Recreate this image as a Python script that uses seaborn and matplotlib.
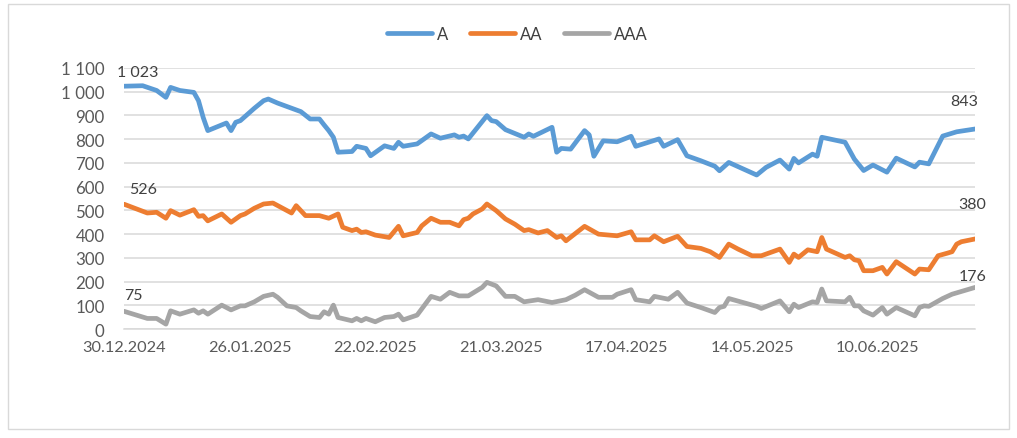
import matplotlib
matplotlib.use("Agg")
import matplotlib.pyplot as plt
import matplotlib.dates as mdates
from matplotlib.patches import Rectangle
from matplotlib.ticker import FuncFormatter, MultipleLocator
import pandas as pd
import seaborn as sns

# --- data ---
a_dates = [
    "2024-12-30", "2025-01-03", "2025-01-06", "2025-01-08", "2025-01-09", "2025-01-11",
    "2025-01-14", "2025-01-15", "2025-01-16", "2025-01-17", "2025-01-21", "2025-01-22",
    "2025-01-23", "2025-01-24", "2025-01-27", "2025-01-29", "2025-01-30", "2025-02-01",
    "2025-02-06", "2025-02-08", "2025-02-10", "2025-02-11", "2025-02-12", "2025-02-13",
    "2025-02-14", "2025-02-17", "2025-02-18", "2025-02-20", "2025-02-21", "2025-02-24",
    "2025-02-26", "2025-02-27", "2025-02-28", "2025-03-03", "2025-03-06", "2025-03-08",
    "2025-03-11", "2025-03-12", "2025-03-13", "2025-03-14", "2025-03-18", "2025-03-19",
    "2025-03-20", "2025-03-22", "2025-03-26", "2025-03-27", "2025-03-28", "2025-04-01",
    "2025-04-02", "2025-04-03", "2025-04-05", "2025-04-08", "2025-04-09", "2025-04-10",
    "2025-04-12", "2025-04-15", "2025-04-18", "2025-04-19", "2025-04-24", "2025-04-25",
    "2025-04-28", "2025-04-30", "2025-05-03", "2025-05-06", "2025-05-07", "2025-05-09",
    "2025-05-15", "2025-05-17", "2025-05-20", "2025-05-22", "2025-05-23", "2025-05-24",
    "2025-05-27", "2025-05-28", "2025-05-29", "2025-06-03", "2025-06-05", "2025-06-07",
    "2025-06-09", "2025-06-12", "2025-06-14", "2025-06-18", "2025-06-19", "2025-06-21",
    "2025-06-24", "2025-06-27", "2025-07-01",
]
a_values = [
    1023, 1025, 1005, 976, 1018, 1005,
    997, 962, 892, 836, 868, 836,
    871, 878, 930, 962, 969, 952,
    916, 885, 885, 860, 836, 808,
    745, 748, 770, 761, 730, 772,
    761, 787, 770, 780, 822, 804,
    818, 808, 813, 801, 899, 878,
    874, 840, 808, 822, 812, 850,
    745, 761, 758, 836, 818, 728,
    793, 789, 812, 770, 801, 770,
    798, 730, 709, 686, 667, 702,
    649, 681, 712, 674, 719, 700,
    737, 728, 808, 787, 716, 668,
    691, 661, 720, 683, 703, 696,
    813, 831, 843,
]

aa_dates = [
    "2024-12-30", "2025-01-04", "2025-01-06", "2025-01-08", "2025-01-09", "2025-01-11",
    "2025-01-14", "2025-01-15", "2025-01-16", "2025-01-17", "2025-01-20", "2025-01-22",
    "2025-01-24", "2025-01-25", "2025-01-27", "2025-01-29", "2025-01-31", "2025-02-04",
    "2025-02-05", "2025-02-07", "2025-02-10", "2025-02-12", "2025-02-14", "2025-02-15",
    "2025-02-17", "2025-02-18", "2025-02-19", "2025-02-20", "2025-02-22", "2025-02-25",
    "2025-02-27", "2025-02-28", "2025-03-03", "2025-03-04", "2025-03-06", "2025-03-08",
    "2025-03-10", "2025-03-12", "2025-03-13", "2025-03-14", "2025-03-15", "2025-03-17",
    "2025-03-18", "2025-03-20", "2025-03-22", "2025-03-24", "2025-03-26", "2025-03-27",
    "2025-03-29", "2025-03-31", "2025-04-02", "2025-04-03", "2025-04-04", "2025-04-08",
    "2025-04-11", "2025-04-15", "2025-04-18", "2025-04-19", "2025-04-22", "2025-04-23",
    "2025-04-25", "2025-04-28", "2025-04-30", "2025-05-03", "2025-05-05", "2025-05-07",
    "2025-05-09", "2025-05-11", "2025-05-14", "2025-05-16", "2025-05-20", "2025-05-22",
    "2025-05-23", "2025-05-24", "2025-05-26", "2025-05-28", "2025-05-29", "2025-05-30",
    "2025-06-03", "2025-06-04", "2025-06-05", "2025-06-06", "2025-06-07", "2025-06-09",
    "2025-06-11", "2025-06-12", "2025-06-14", "2025-06-18", "2025-06-19", "2025-06-21",
    "2025-06-23", "2025-06-25", "2025-06-26", "2025-06-27", "2025-06-28", "2025-07-01",
]
aa_values = [
    526, 489, 492, 467, 499, 480,
    503, 475, 478, 456, 485, 450,
    478, 485, 509, 527, 531, 489,
    520, 478, 478, 467, 485, 429,
    415, 421, 407, 410, 396, 386,
    433, 393, 407, 435, 467, 450,
    450, 435, 461, 467, 485, 506,
    527, 499, 464, 442, 415, 419,
    405, 415, 386, 393, 372, 433,
    400, 393, 410, 376, 376, 393,
    368, 391, 348, 340, 326, 302,
    358, 337, 309, 309, 337, 281,
    316, 302, 334, 326, 386, 337,
    302, 309, 292, 288, 246, 246,
    260, 232, 284, 232, 253, 250,
    309, 320, 326, 358, 368, 380,
]

aaa_dates = [
    "2024-12-30", "2025-01-04", "2025-01-06", "2025-01-08", "2025-01-09", "2025-01-11",
    "2025-01-14", "2025-01-15", "2025-01-16", "2025-01-17", "2025-01-20", "2025-01-22",
    "2025-01-24", "2025-01-25", "2025-01-27", "2025-01-29", "2025-01-31", "2025-02-01",
    "2025-02-03", "2025-02-05", "2025-02-06", "2025-02-08", "2025-02-10", "2025-02-11",
    "2025-02-12", "2025-02-13", "2025-02-14", "2025-02-17", "2025-02-18", "2025-02-19",
    "2025-02-20", "2025-02-22", "2025-02-24", "2025-02-26", "2025-02-27", "2025-02-28",
    "2025-03-03", "2025-03-06", "2025-03-08", "2025-03-10", "2025-03-12", "2025-03-14",
    "2025-03-17", "2025-03-18", "2025-03-20", "2025-03-22", "2025-03-24", "2025-03-26",
    "2025-03-29", "2025-04-01", "2025-04-04", "2025-04-06", "2025-04-08", "2025-04-11",
    "2025-04-14", "2025-04-15", "2025-04-18", "2025-04-19", "2025-04-22", "2025-04-23",
    "2025-04-26", "2025-04-28", "2025-04-30", "2025-05-03", "2025-05-06", "2025-05-07",
    "2025-05-08", "2025-05-09", "2025-05-15", "2025-05-16", "2025-05-20", "2025-05-22",
    "2025-05-23", "2025-05-24", "2025-05-27", "2025-05-28", "2025-05-29", "2025-05-30",
    "2025-06-03", "2025-06-04", "2025-06-05", "2025-06-06", "2025-06-07", "2025-06-09",
    "2025-06-11", "2025-06-12", "2025-06-14", "2025-06-18", "2025-06-19", "2025-06-20",
    "2025-06-21", "2025-06-24", "2025-06-26", "2025-07-01",
]
aaa_values = [
    75, 45, 45, 21, 77, 63,
    81, 67, 77, 63, 101, 81,
    98, 98, 115, 138, 147, 134,
    98, 91, 77, 53, 49, 73,
    63, 101, 49, 35, 45, 35,
    45, 31, 49, 53, 63, 39,
    59, 138, 126, 155, 140, 140,
    176, 197, 182, 138, 138, 115,
    124, 112, 124, 143, 166, 134,
    134, 147, 166, 124, 115, 138,
    126, 155, 110, 91, 70, 91,
    96, 129, 96, 87, 119, 73,
    105, 91, 115, 112, 169, 119,
    115, 134, 98, 98, 77, 59,
    91, 63, 91, 56, 91, 98,
    96, 129, 147, 176,
]

series_names = ["A", "AA", "AAA"]
series_colors = ["#5B9BD5", "#ED7D31", "#A5A5A5"]
tick_dates = ["2024-12-30", "2025-01-26", "2025-02-22", "2025-03-21",
              "2025-04-17", "2025-05-14", "2025-06-10"]

frames = []
for name, d, v in zip(series_names, [a_dates, aa_dates, aaa_dates],
                      [a_values, aa_values, aaa_values]):
    frames.append(pd.DataFrame({"date": pd.to_datetime(d), "value": v, "series": name}))
df = pd.concat(frames, ignore_index=True)

sns.set_theme(style="white")
plt.rcParams["font.family"] = ["Lato", "DejaVu Sans"]

fig = plt.figure(figsize=(10.17, 4.39), dpi=100)
ax = fig.add_axes([0.122, 0.248, 0.837, 0.595])

sns.lineplot(data=df, x="date", y="value", hue="series", hue_order=series_names,
             palette=series_colors, linewidth=3.4, ax=ax, legend=True, sort=False)

ax.set_ylim(0, 1100)
ax.set_xlim(pd.Timestamp("2024-12-30"), pd.Timestamp("2025-07-01"))
ax.yaxis.set_major_locator(MultipleLocator(100))
ax.yaxis.set_major_formatter(FuncFormatter(lambda v, p: f"{v:,.0f}".replace(",", " ")))
ax.set_xticks(pd.to_datetime(tick_dates))
ax.xaxis.set_major_formatter(mdates.DateFormatter("%d.%m.%Y"))
ax.grid(axis="y", color="#d9d9d9", linewidth=1.1)
ax.set_axisbelow(True)
for side in ["top", "right", "left"]:
    ax.spines[side].set_visible(False)
ax.spines["bottom"].set_color("#d9d9d9")
ax.spines["bottom"].set_linewidth(1.1)
ax.tick_params(axis="x", length=5, color="#d9d9d9", labelsize=11.7, labelcolor="#595959", pad=3)
ax.tick_params(axis="y", length=0, labelsize=12.2, labelcolor="#595959", pad=14)
ax.set_xlabel("")
ax.set_ylabel("")

# data labels at first and last points
label_offsets = {
    "A": [(10, 10), (-8, 20)],
    "AA": [(14, 11), (-2, 25)],
    "AAA": [(7, 12), (-2, 8)],
}
for name, d, v in zip(series_names, [a_dates, aa_dates, aaa_dates],
                      [a_values, aa_values, aaa_values]):
    for idx, off in zip([0, -1], label_offsets[name]):
        ax.annotate(f"{v[idx]:,}".replace(",", " "), (pd.Timestamp(d[idx]), v[idx]),
                    xytext=off, textcoords="offset points", ha="center", va="center",
                    fontsize=11.5, color="#404040", annotation_clip=False)

handles, labels = ax.get_legend_handles_labels()
ax.get_legend().remove()
fig.legend(handles, labels, loc="center", bbox_to_anchor=(0.509, 0.92), ncol=3,
           frameon=False, fontsize=12, handlelength=2.7, handletextpad=0.3,
           columnspacing=1.3, labelcolor="#404040")

# outer chart border
fig.patches.append(Rectangle((0.008, 0.02), 0.984, 0.968, transform=fig.transFigure,
                             fill=False, edgecolor="#d9d9d9", linewidth=1.0))

fig.savefig("out.png", dpi=100)
